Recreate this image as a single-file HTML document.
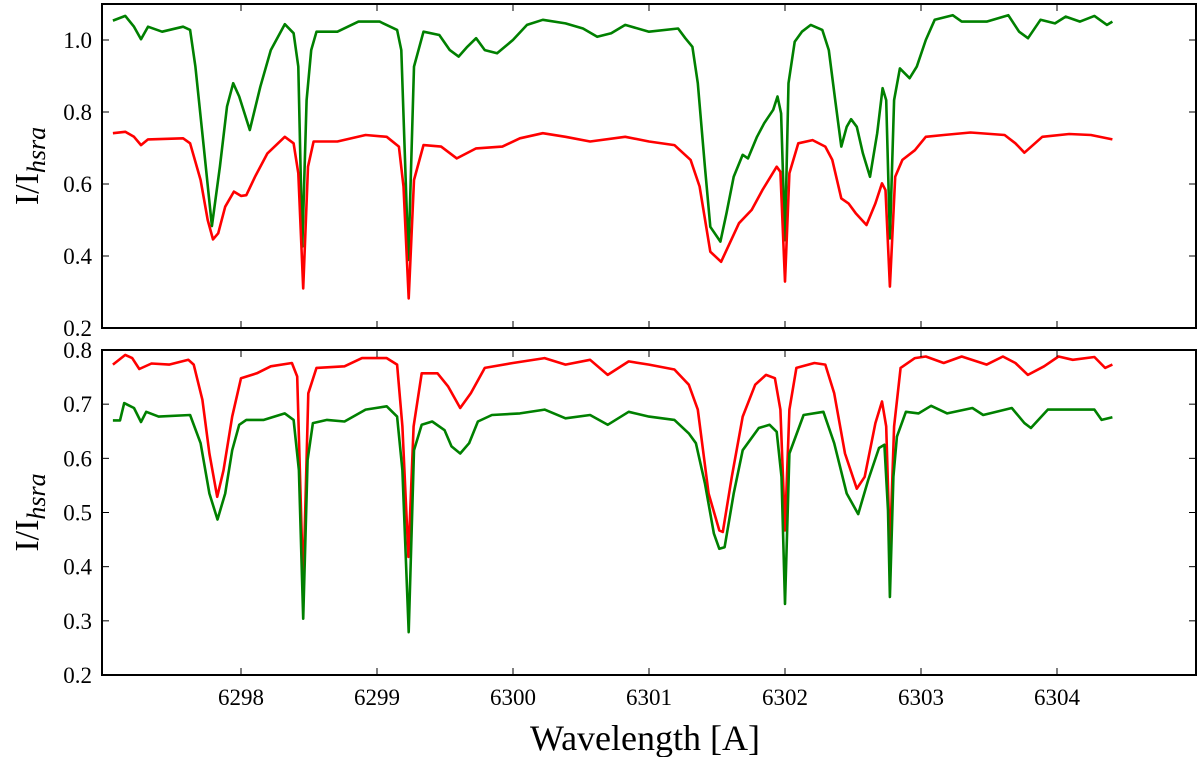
<!DOCTYPE html>
<html><head><meta charset="utf-8"><style>
html,body{margin:0;padding:0;background:#fff;}
svg{display:block;}
text{font-family:"Liberation Serif","DejaVu Serif",serif;fill:#000;}
</style></head><body>
<svg id="chart" width="1200" height="757" viewBox="0 0 1200 757" xmlns="http://www.w3.org/2000/svg"></svg>
<script>
// ---- data ----
const xTicks = [6298, 6299, 6300, 6301, 6302, 6303, 6304];
const topYTicks = [0.2, 0.4, 0.6, 0.8, 1.0];
const botYTicks = [0.2, 0.3, 0.4, 0.5, 0.6, 0.7, 0.8];

const topGreenX = [6297.058,6297.149,6297.213,6297.265,6297.316,6297.420,6297.574,6297.626,6297.665,6297.729,6297.786,6297.845,6297.897,6297.943,6297.987,6298.065,6298.142,6298.219,6298.322,6298.387,6298.421,6298.451,6298.482,6298.516,6298.555,6298.709,6298.864,6299.019,6299.148,6299.179,6299.231,6299.272,6299.342,6299.458,6299.535,6299.600,6299.664,6299.729,6299.793,6299.883,6299.999,6300.103,6300.219,6300.386,6300.515,6300.619,6300.722,6300.825,6301.000,6301.214,6301.267,6301.319,6301.359,6301.411,6301.451,6301.525,6301.570,6301.623,6301.689,6301.728,6301.794,6301.847,6301.913,6301.945,6301.971,6302.000,6302.026,6302.071,6302.124,6302.190,6302.274,6302.322,6302.369,6302.414,6302.454,6302.486,6302.528,6302.573,6302.625,6302.678,6302.718,6302.744,6302.771,6302.802,6302.845,6302.916,6302.969,6303.035,6303.101,6303.233,6303.299,6303.483,6303.642,6303.721,6303.787,6303.879,6303.985,6304.064,6304.169,6304.275,6304.368,6304.407];
const topGreenY = [1.054,1.067,1.037,1.002,1.037,1.023,1.037,1.028,0.926,0.694,0.483,0.648,0.815,0.880,0.843,0.750,0.870,0.972,1.044,1.019,0.926,0.426,0.833,0.972,1.023,1.023,1.051,1.051,1.028,0.972,0.389,0.926,1.023,1.014,0.972,0.954,0.981,1.005,0.972,0.963,1.000,1.042,1.056,1.046,1.032,1.009,1.019,1.042,1.023,1.032,1.005,0.981,0.880,0.648,0.481,0.440,0.519,0.620,0.681,0.671,0.731,0.769,0.806,0.843,0.796,0.444,0.880,0.995,1.023,1.042,1.028,0.972,0.833,0.704,0.759,0.780,0.759,0.685,0.620,0.741,0.866,0.833,0.449,0.833,0.921,0.894,0.926,1.000,1.056,1.069,1.051,1.051,1.069,1.023,1.005,1.056,1.046,1.065,1.051,1.067,1.042,1.051];

const topRedX = [6297.058,6297.149,6297.213,6297.265,6297.316,6297.574,6297.626,6297.703,6297.755,6297.794,6297.832,6297.884,6297.948,6298.000,6298.039,6298.103,6298.194,6298.322,6298.387,6298.421,6298.457,6298.493,6298.534,6298.709,6298.916,6299.071,6299.161,6299.195,6299.233,6299.272,6299.342,6299.471,6299.587,6299.729,6299.922,6300.051,6300.219,6300.386,6300.567,6300.825,6301.000,6301.187,6301.306,6301.372,6301.451,6301.530,6301.662,6301.755,6301.834,6301.939,6301.966,6302.000,6302.032,6302.098,6302.203,6302.296,6302.348,6302.414,6302.467,6302.520,6302.599,6302.665,6302.713,6302.739,6302.771,6302.810,6302.863,6302.955,6303.035,6303.167,6303.364,6303.615,6303.694,6303.760,6303.892,6304.090,6304.249,6304.407];
const topRedY = [0.741,0.745,0.731,0.708,0.724,0.727,0.713,0.611,0.500,0.446,0.463,0.537,0.579,0.567,0.569,0.620,0.685,0.731,0.713,0.630,0.310,0.648,0.718,0.718,0.736,0.731,0.704,0.593,0.282,0.611,0.708,0.704,0.671,0.699,0.704,0.727,0.741,0.731,0.718,0.731,0.718,0.708,0.667,0.593,0.412,0.384,0.491,0.528,0.583,0.648,0.634,0.329,0.630,0.713,0.722,0.704,0.667,0.560,0.546,0.519,0.486,0.546,0.602,0.583,0.315,0.620,0.667,0.694,0.731,0.736,0.743,0.736,0.713,0.687,0.731,0.739,0.736,0.724];

const botRedX = [6297.058,6297.149,6297.200,6297.252,6297.342,6297.471,6297.613,6297.652,6297.716,6297.768,6297.825,6297.871,6297.935,6298.000,6298.116,6298.219,6298.374,6298.413,6298.457,6298.495,6298.555,6298.761,6298.890,6299.071,6299.148,6299.187,6299.231,6299.269,6299.329,6299.445,6299.522,6299.612,6299.690,6299.793,6299.999,6300.232,6300.386,6300.567,6300.696,6300.851,6301.000,6301.187,6301.293,6301.359,6301.438,6301.517,6301.543,6301.609,6301.689,6301.781,6301.860,6301.926,6301.966,6302.000,6302.032,6302.084,6302.216,6302.296,6302.362,6302.441,6302.528,6302.586,6302.665,6302.713,6302.744,6302.771,6302.802,6302.850,6302.955,6303.035,6303.167,6303.299,6303.483,6303.602,6303.694,6303.786,6303.905,6304.011,6304.116,6304.275,6304.354,6304.407];
const botRedY = [0.773,0.791,0.785,0.765,0.775,0.773,0.782,0.773,0.708,0.609,0.529,0.578,0.677,0.748,0.757,0.770,0.776,0.751,0.360,0.720,0.767,0.770,0.785,0.785,0.773,0.659,0.418,0.659,0.757,0.757,0.733,0.693,0.720,0.767,0.776,0.785,0.773,0.782,0.754,0.779,0.773,0.764,0.736,0.690,0.535,0.467,0.464,0.566,0.677,0.736,0.754,0.748,0.690,0.467,0.690,0.767,0.776,0.773,0.720,0.609,0.544,0.566,0.665,0.705,0.659,0.430,0.659,0.767,0.785,0.788,0.776,0.788,0.773,0.788,0.776,0.754,0.770,0.788,0.782,0.787,0.767,0.773];

const botGreenX = [6297.058,6297.110,6297.141,6297.213,6297.265,6297.303,6297.394,6297.626,6297.703,6297.768,6297.827,6297.884,6297.935,6297.987,6298.039,6298.168,6298.322,6298.387,6298.426,6298.457,6298.490,6298.529,6298.632,6298.761,6298.916,6299.071,6299.148,6299.187,6299.233,6299.272,6299.329,6299.406,6299.497,6299.548,6299.612,6299.677,6299.742,6299.845,6300.051,6300.232,6300.386,6300.567,6300.696,6300.851,6301.000,6301.187,6301.293,6301.345,6301.411,6301.477,6301.517,6301.556,6301.623,6301.689,6301.807,6301.887,6301.939,6301.974,6302.000,6302.032,6302.137,6302.282,6302.362,6302.454,6302.538,6302.612,6302.691,6302.731,6302.757,6302.771,6302.797,6302.823,6302.889,6302.982,6303.074,6303.193,6303.378,6303.457,6303.668,6303.760,6303.808,6303.932,6304.090,6304.275,6304.328,6304.407];
const botGreenY = [0.670,0.670,0.702,0.693,0.667,0.686,0.677,0.680,0.628,0.535,0.487,0.535,0.615,0.662,0.671,0.671,0.683,0.671,0.578,0.304,0.597,0.665,0.671,0.668,0.690,0.696,0.677,0.578,0.279,0.615,0.662,0.668,0.652,0.622,0.609,0.628,0.668,0.680,0.683,0.690,0.674,0.680,0.662,0.686,0.677,0.671,0.646,0.628,0.554,0.461,0.433,0.436,0.535,0.615,0.656,0.662,0.649,0.566,0.331,0.609,0.680,0.686,0.628,0.535,0.497,0.560,0.619,0.625,0.504,0.344,0.566,0.640,0.686,0.683,0.697,0.683,0.693,0.680,0.693,0.665,0.656,0.690,0.690,0.690,0.671,0.676];

// ---- layout ----
const NS = 'http://www.w3.org/2000/svg';
const svg = document.getElementById('chart');
const L = 102, R = 1196;
const xMin = 6296.95, xMax = 6305.0;
function sx(v){ return 241 + (v - 6298) * 136; }

const panels = [
  {name:'top', top:4, bottom:328, yMin:0.2, yMax:1.1, ticks:topYTicks, fmt:1,
   series:[{name:'top-green-spectrum', x:topGreenX, y:topGreenY, c:'#008000'},
           {name:'top-red-spectrum', x:topRedX, y:topRedY, c:'#ff0000'}]},
  {name:'bottom', top:350, bottom:675, yMin:0.2, yMax:0.8, ticks:botYTicks, fmt:1,
   series:[{name:'bottom-red-spectrum', x:botRedX, y:botRedY, c:'#ff0000'},
           {name:'bottom-green-spectrum', x:botGreenX, y:botGreenY, c:'#008000'}]}
];

function mk(tag, attrs, parent){
  const e = document.createElementNS(NS, tag);
  for (const k in attrs) e.setAttribute(k, attrs[k]);
  (parent||svg).appendChild(e);
  return e;
}

panels.forEach(p => {
  const sy = v => p.bottom - (v - p.yMin) / (p.yMax - p.yMin) * (p.bottom - p.top);
  const g = mk('g', {});
  
  
  // series
  p.series.forEach(s => {
    let d = '';
    s.x.forEach((xv, i) => { d += (i ? 'L' : 'M') + sx(xv).toFixed(1) + ' ' + sy(s.y[i]).toFixed(1); });
    const path = mk('path', {d:d, fill:'none', stroke:s.c, 'stroke-width':2.6, 'stroke-linejoin':'round'}, g);
    
    
  });
  // frame
  const fr = mk('rect', {x:L, y:p.top, width:R-L, height:p.bottom-p.top, fill:'none', stroke:'#000', 'stroke-width':2}, g);
  
  
  // x ticks
  xTicks.forEach(t => {
    const x = sx(t);
    const t1 = mk('line', {x1:x, x2:x, y1:p.bottom, y2:p.bottom-7, stroke:'#000', 'stroke-width':1}, g);
    
    
    const t2 = mk('line', {x1:x, x2:x, y1:p.top, y2:p.top+7, stroke:'#000', 'stroke-width':1}, g);
    
    
    if (p.name === 'bottom') {
      const lb = mk('text', {x:x, y:p.bottom+30, 'font-size':23, 'text-anchor':'middle'}, g);
      lb.textContent = t;
      
      
    }
  });
  // y ticks
  p.ticks.forEach(t => {
    const y = sy(t);
    const a = mk('line', {x1:L, x2:L+7, y1:y, y2:y, stroke:'#000', 'stroke-width':1}, g);
    
    
    const b = mk('line', {x1:R-7, x2:R, y1:y, y2:y, stroke:'#000', 'stroke-width':1}, g);
    
    
    const lb = mk('text', {x:L-10, y:y+8, 'font-size':23, 'text-anchor':'end'}, g);
    lb.textContent = t.toFixed(p.fmt);
    
    
  });
  // y title
  const cy = (p.top + p.bottom) / 2;
  const yt = mk('text', {x:0, y:0, 'font-size':34, 'text-anchor':'middle', transform:'translate(38,'+cy+') rotate(-90)'}, g);
  
  
  const s1 = mk('tspan', {}, yt); s1.textContent = 'I/I';
  const s2 = mk('tspan', {'font-style':'italic', 'font-size':26, dy:7}, yt); s2.textContent = 'hsra';
});

const xt = mk('text', {x:645, y:750, 'font-size':36, 'text-anchor':'middle'});
xt.textContent = 'Wavelength [A]';


</script>
</body></html>
